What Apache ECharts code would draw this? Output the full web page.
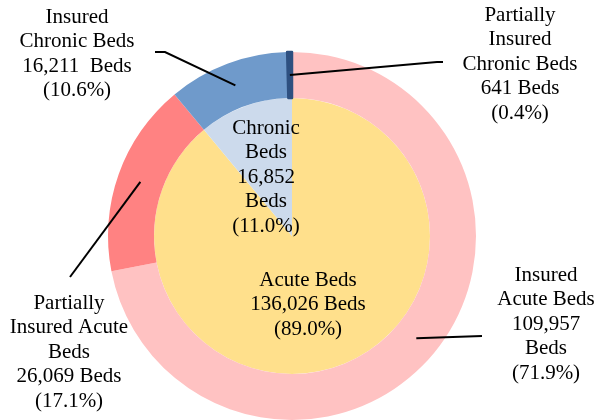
<!DOCTYPE html>
<html>
<head>
<meta charset="utf-8"/>
<script src="https://cdn.jsdelivr.net/npm/echarts@6.0.0/dist/echarts.min.js"></script>
</head>
<body style="margin:0">
<div id="main" style="width:597px;height:420px;"></div>
<script>
// 数据
var innerNames = ['Acute Beds', 'Chronic\nBeds'];
var innerValues = [136026, 16852];
var innerSep = [' ', '\n'];
var outerNames = ['Insured\nAcute Beds', 'Partially\nInsured Acute\nBeds', 'Insured\nChronic Beds', 'Partially\nInsured\nChronic Beds'];
var outerValues = [109957, 26069, 16211, 641];
var outerSep = ['\n', ' ', '  ', ' '];

var innerColors = ['#FFE08C', '#CCDAEC'];
var outerColors = ['#FFC2C2', '#FF8282', '#6F9ACB', '#2E5080'];

// 版式
var center = [292, 236];
var rIn = 138, rOut = 184;
var innerLabelPos = [[308, 268], [266, 116]];
var outerLabelPos = [[546, 263], [69, 291], [77, 5], [520, 3]];
var leaderEnds = [
  [[482, 336], [482, 336]],
  [[70, 277], [70, 277]],
  [[165, 52], [155, 52]],
  [[437, 62], [443, 62]]
];

var total = innerValues.reduce(function (a, b) { return a + b; }, 0);
function fmt(v) { return v.toLocaleString('en-US'); }
function pct(v) { return '(' + (v / total * 100).toFixed(1) + '%)'; }

var font = {
  fontFamily: '"Liberation Serif", "Times New Roman", serif',
  fontSize: 21,
  lineHeight: 24.5,
  color: '#000',
  align: 'center'
};

var myChart = echarts.init(document.getElementById('main'));
myChart.setOption({
  animation: false,
  series: [
    {
      type: 'pie',
      center: center,
      radius: [0, rIn],
      startAngle: 90,
      avoidLabelOverlap: false,
      data: innerValues.map(function (v, i) {
        return { name: innerNames[i], value: v, itemStyle: { color: innerColors[i] } };
      }),
      label: Object.assign({
        position: 'inside',
        formatter: function (p) {
          return p.name + '\n' + fmt(p.value) + innerSep[p.dataIndex] + 'Beds\n' + pct(p.value);
        }
      }, font),
      labelLayout: function (p) {
        var pos = innerLabelPos[p.dataIndex];
        return { x: pos[0], y: pos[1], align: 'center', verticalAlign: 'top' };
      },
      emphasis: { disabled: true }
    },
    {
      // 外环色块
      type: 'pie',
      center: center,
      radius: [rIn, rOut],
      startAngle: 90,
      label: { show: false },
      labelLine: { show: false },
      data: outerValues.map(function (v, i) {
        var st = { color: outerColors[i] };
        if (i === 3) { st.borderColor = outerColors[i]; st.borderWidth = 2.5; }
        return { name: outerNames[i], value: v, itemStyle: st };
      }),
      emphasis: { disabled: true }
    },
    {
      // 外环标签（透明扇区，引导线画在色块上面）
      type: 'pie',
      z: 5,
      center: center,
      radius: [rIn, rOut],
      startAngle: 90,
      avoidLabelOverlap: false,
      silent: true,
      data: outerValues.map(function (v, i) {
        return { name: outerNames[i], value: v, itemStyle: { color: 'transparent' } };
      }),
      label: Object.assign({
        position: 'outside',
        formatter: function (p) {
          return p.name + '\n' + fmt(p.value) + outerSep[p.dataIndex] + 'Beds\n' + pct(p.value);
        }
      }, font),
      labelLine: {
        show: true,
        lineStyle: { color: '#000', width: 2 }
      },
      labelLayout: function (p) {
        var i = p.dataIndex;
        var pos = outerLabelPos[i];
        var pts = p.labelLinePoints;
        var k = ((rIn + rOut) / 2) / rOut;
        var p0 = [center[0] + (pts[0][0] - center[0]) * k, center[1] + (pts[0][1] - center[1]) * k];
        return {
          x: pos[0], y: pos[1], align: 'center', verticalAlign: 'top',
          labelLinePoints: [p0, leaderEnds[i][0], leaderEnds[i][1]]
        };
      },
      emphasis: { disabled: true }
    }
  ]
});
</script>
</body>
</html>
